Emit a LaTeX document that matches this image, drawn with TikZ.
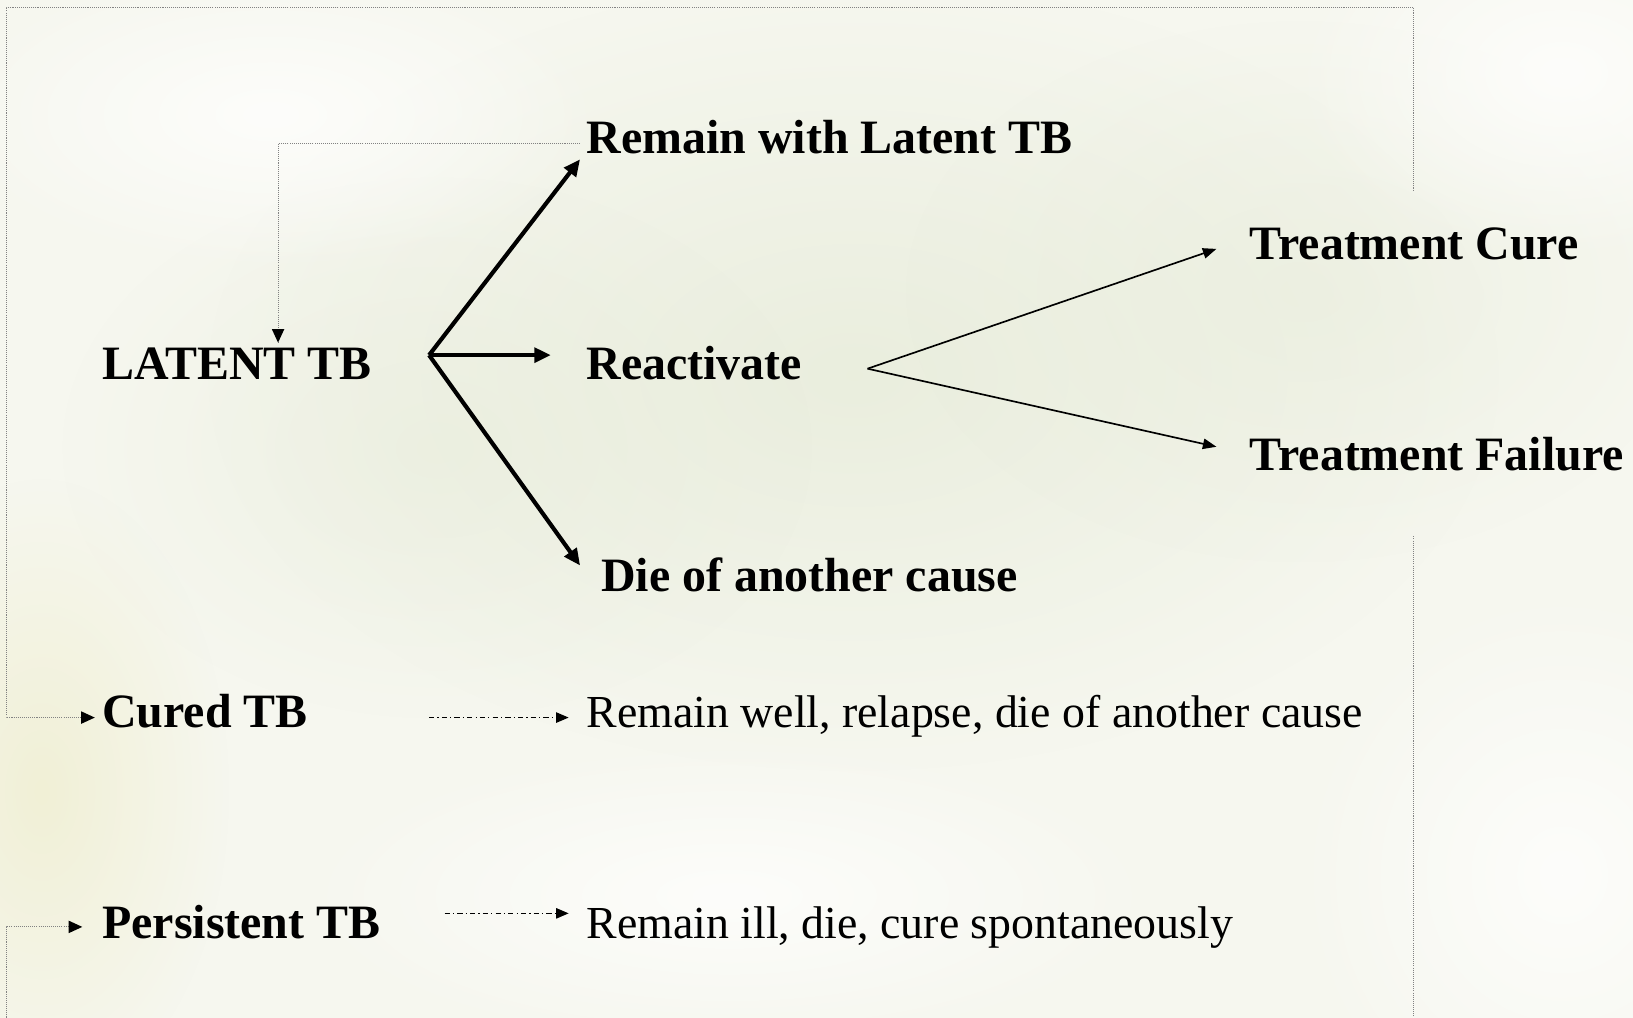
\documentclass[tikz,border=0pt]{standalone}
\usepackage{fontspec}
\setmainfont{Liberation Serif}
\usetikzlibrary{arrows.meta,fadings}

\definecolor{paper}{RGB}{246,247,239}
\definecolor{paperdark}{RGB}{230,235,216}
\definecolor{paperwarm}{RGB}{241,240,214}
\definecolor{paperlight}{RGB}{253,253,251}
\definecolor{framegray}{RGB}{130,130,130}

\tikzfading[name=softspot, inner color=transparent!0, outer color=transparent!100]

\tikzset{
  boldlabel/.style={font=\fontsize{46}{52}\selectfont\bfseries, inner sep=0pt},
  plainlabel/.style={font=\fontsize{44}{50}\selectfont, inner sep=0pt},
  heavyarrow/.style={line width=4pt, -{Triangle[length=16pt,width=14pt]}},
  thinarrow/.style={line width=1.6pt, -{Triangle[length=13pt,width=10pt]}},
  dasharrow/.style={line width=1.1pt, dash pattern=on 5pt off 3pt on 1.2pt off 3pt,
                    -{Triangle[length=12pt,width=10pt]}},
  frameline/.style={framegray, line width=1pt, densely dotted},
  spot/.style={path fading=softspot},
}

\begin{document}
\begin{tikzpicture}[x=1pt,y=-1pt]
  \useasboundingbox (0,0) rectangle (1568,977);
  \clip (0,0) rectangle (1568,977);
  % paper background with soft mottling
  \fill[paper] (0,0) rectangle (1568,977);
  \fill[paperdark, spot, fill opacity=0.75] (820,360) ellipse (620 and 380);
  \fill[paperdark, spot, fill opacity=0.5] (420,430) ellipse (360 and 260);
  \fill[paperdark, spot, fill opacity=0.5] (1250,280) ellipse (380 and 260);
  \fill[paperwarm, spot] (40,760) ellipse (180 and 300);
  \fill[paperlight, spot] (1500,840) ellipse (260 and 280);
  \fill[paperlight, spot] (1500,70) ellipse (260 and 180);
  \fill[paperlight, spot] (260,110) ellipse (320 and 150);
  \fill[paperlight, spot] (700,860) ellipse (420 and 150);

  % labels
  \node[boldlabel, anchor=base west] (latent) at (98,364) {LATENT TB};
  \node[boldlabel, anchor=base west] (remain) at (563,147) {Remain with Latent TB};
  \node[boldlabel, anchor=base west] (react) at (563,364) {Reactivate};
  \node[boldlabel, anchor=base west] (die) at (577,568) {Die of another cause};
  \node[boldlabel, anchor=base west] (cure) at (1200,249) {Treatment Cure};
  \node[boldlabel, anchor=base west] (fail) at (1200,452) {Treatment Failure};
  \node[boldlabel, anchor=base west] (cured) at (98,699) {Cured TB};
  \node[plainlabel, anchor=base west] (well) at (563,699) {Remain well, relapse, die of another cause};
  \node[boldlabel, anchor=base west] (persist) at (98,901) {Persistent TB};
  \node[plainlabel, anchor=base west] (ill) at (563,901) {Remain ill, die, cure spontaneously};

  % branch points and arrow ends
  \coordinate (hub) at (412,341);
  \coordinate (toremain) at (557,153);
  \coordinate (toreact) at (529,341);
  \coordinate (todie) at (557,543);
  \coordinate (fork) at (833,354);
  \coordinate (tocure) at (1168,239);
  \coordinate (tofail) at (1168,429);

  \draw[heavyarrow] (hub) -- (toremain);
  \draw[heavyarrow] (hub) -- (toreact);
  \draw[heavyarrow] (hub) -- (todie);
  \draw[thinarrow] (fork) -- (tocure);
  \draw[thinarrow] (fork) -- (tofail);

  % dash-dot follow-up arrows
  \coordinate (wellstart) at (412,689);
  \coordinate (wellend) at (546,689);
  \coordinate (illstart) at (427,877);
  \coordinate (illend) at (546,877);
  \draw[dasharrow] (wellstart) -- (wellend);
  \draw[dasharrow] (illstart) -- (illend);

  % return loop back into the latent state
  \coordinate (loopstart) at (557,138);
  \coordinate (loopcorner) at (267,138);
  \coordinate (loopend) at (267,329);
  \draw[frameline] (loopstart) -- (loopcorner) -- (loopend);
  \fill (loopend) -- ++(-6,-13) -- ++(12,0) -- cycle;

  % outer frame
  \coordinate (ftl) at (6,7);
  \coordinate (ftr) at (1357,7);
  \coordinate (frtop) at (1357,183);
  \coordinate (frbot) at (1357,515);
  \coordinate (frend) at (1357,977);
  \coordinate (fcorner) at (6,689);
  \coordinate (curedtip) at (91,689);
  \coordinate (fbl) at (6,977);
  \coordinate (pcorner) at (6,890);
  \coordinate (persisttip) at (79,890);
  \draw[frameline] (frtop) -- (ftr) -- (ftl) -- (fcorner) -- (curedtip);
  \draw[frameline] (frbot) -- (frend);
  \draw[frameline] (fbl) -- (pcorner) -- (persisttip);
  \fill (curedtip) -- ++(-13,-6) -- ++(0,12) -- cycle;
  \fill (persisttip) -- ++(-13,-6) -- ++(0,12) -- cycle;
\end{tikzpicture}
\end{document}
